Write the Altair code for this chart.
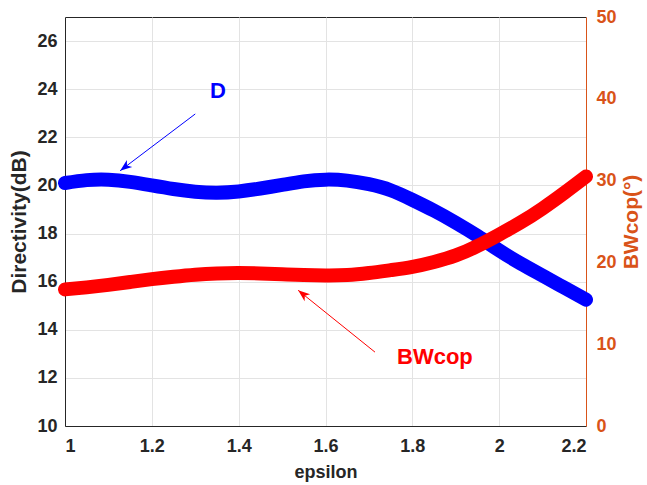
import altair as alt
import pandas as pd

# ---- data ----
epsilon = [1.00, 1.05, 1.10, 1.15, 1.20, 1.25, 1.30, 1.35, 1.40, 1.45, 1.50, 1.55, 1.60,
           1.65, 1.70, 1.75, 1.80, 1.85, 1.90, 1.95, 2.00, 2.05, 2.10, 2.15, 2.20]
directivity = [20.10, 20.22, 20.24, 20.15, 20.00, 19.85, 19.74, 19.70, 19.75, 19.87, 20.02, 20.17, 20.24,
               20.20, 20.05, 19.80, 19.40, 18.95, 18.45, 17.90, 17.30, 16.75, 16.25, 15.75, 15.25]
bwcop = [16.70, 16.95, 17.25, 17.60, 17.95, 18.25, 18.50, 18.65, 18.70, 18.65, 18.55, 18.45, 18.40,
         18.45, 18.70, 19.05, 19.45, 20.05, 20.85, 22.00, 23.40, 24.90, 26.60, 28.50, 30.50]

x_ticks = [1, 1.2, 1.4, 1.6, 1.8, 2, 2.2]
left_ticks = [10, 12, 14, 16, 18, 20, 22, 24, 26]
right_ticks = [0, 10, 20, 30, 40, 50]

# annotations (data coordinates, left axis units)
label_text = ["D", "BWcop"]
label_x = [1.352, 1.852]
label_y = [23.93, 12.86]
label_color = ["#0000FF", "#FF0000"]
arrow_x1 = [1.300, 1.714]
arrow_y1 = [22.97, 13.07]
arrow_x2 = [1.127, 1.537]
arrow_y2 = [20.61, 15.64]
arrow_angle = [232.7, 308.8]

FONT = "Liberation Sans"
DARK = "#262626"
ORANGE = "#D95319"
GRID = "#e3e3e3"

df = pd.DataFrame({"eps": epsilon, "D": directivity, "BW": bwcop})
ann = pd.DataFrame({"text": label_text, "x": label_x, "y": label_y, "color": label_color,
                    "x1": arrow_x1, "y1": arrow_y1, "x2": arrow_x2, "y2": arrow_y2,
                    "angle": arrow_angle})

xscale = alt.Scale(domain=[1, 2.2], nice=False, zero=False)
lscale = alt.Scale(domain=[10, 27], nice=False, zero=False)
rscale = alt.Scale(domain=[0, 50], nice=False, zero=False)

x_axis = alt.Axis(values=x_ticks, format="~g", title="epsilon", grid=True, gridColor=GRID,
                  ticks=False, labelPadding=11, titlePadding=8, titleFontSize=18,
                  domainColor=DARK, labelColor=DARK, titleColor=DARK)
l_axis = alt.Axis(values=left_ticks, title="Directivity(dB)", grid=True, gridColor=GRID,
                  ticks=False, labelPadding=8, titlePadding=7, titleFontSize=21,
                  domainColor=DARK, labelColor=DARK, titleColor=DARK)

blue = alt.Chart(df).mark_line(color="#0000FF", strokeWidth=14, strokeCap="round",
                               interpolate="natural").encode(
    x=alt.X("eps:Q", scale=xscale, axis=x_axis),
    y=alt.Y("D:Q", scale=lscale, axis=l_axis),
)

shafts = alt.Chart(ann).mark_rule(strokeWidth=1).encode(
    x=alt.X("x1:Q", scale=xscale, axis=x_axis),
    y=alt.Y("y1:Q", scale=lscale, axis=l_axis),
    x2="x2:Q", y2="y2:Q",
    color=alt.Color("color:N", scale=None),
)

heads = alt.Chart(ann).mark_point(shape="M0,0 L0.75,2 L0,1.45 L-0.75,2 Z", filled=True,
                                  size=140, opacity=1).encode(
    x=alt.X("x2:Q", scale=xscale, axis=x_axis),
    y=alt.Y("y2:Q", scale=lscale, axis=l_axis),
    angle=alt.Angle("angle:Q", scale=None),
    color=alt.Color("color:N", scale=None),
)

texts = alt.Chart(ann).mark_text(font=FONT, fontSize=22, fontWeight="bold", align="center",
                                 baseline="middle").encode(
    x=alt.X("x:Q", scale=xscale, axis=x_axis),
    y=alt.Y("y:Q", scale=lscale, axis=l_axis),
    text="text:N",
    color=alt.Color("color:N", scale=None),
)

left = alt.layer(blue, shafts, heads, texts)

red = alt.Chart(df).mark_line(color="#FF0000", strokeWidth=14, strokeCap="round",
                              interpolate="natural").encode(
    x=alt.X("eps:Q", scale=xscale, axis=x_axis),
    y=alt.Y("BW:Q", scale=rscale,
            axis=alt.Axis(orient="right", values=right_ticks, title="BWcop(°)", grid=False,
                          ticks=False, labelPadding=10, titlePadding=4, titleAngle=270,
                          titleBaseline="top", titleFontSize=21,
                          domainColor=ORANGE, labelColor=ORANGE, titleColor=ORANGE)),
)

chart = alt.layer(left, red).resolve_scale(y="independent").properties(
    width=521, height=409,
    padding={"left": 65, "top": 17, "right": 61, "bottom": 59},
    autosize=alt.AutoSizeParams(type="none"),
    background="white",
).configure_view(stroke=DARK, strokeWidth=1).configure_axis(
    labelFont=FONT, titleFont=FONT, labelFontSize=18,
    labelFontWeight="bold", titleFontWeight="bold", domainWidth=1,
)

chart.save("out.html", embed_options={"renderer": "svg", "actions": False})
